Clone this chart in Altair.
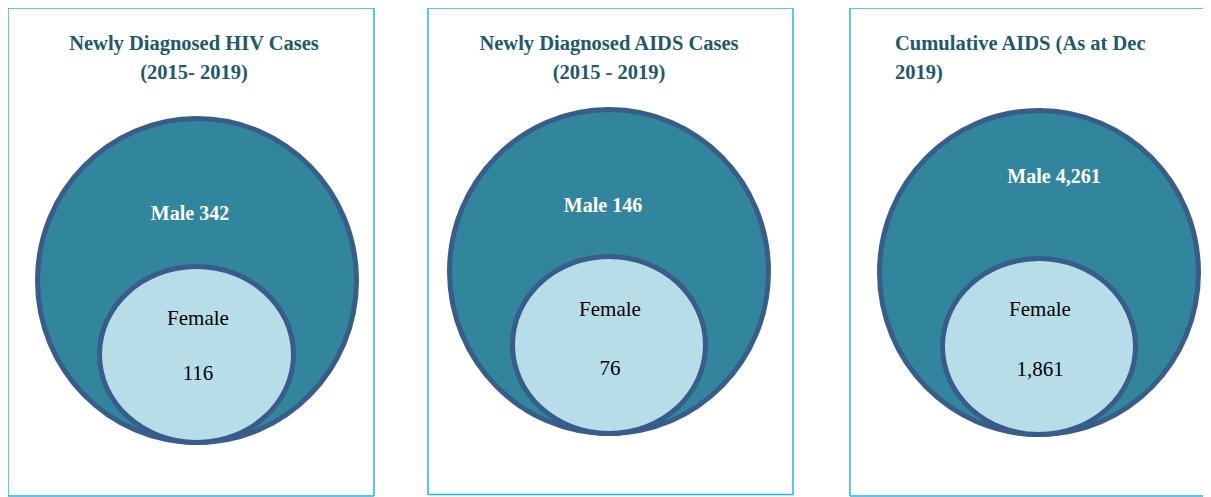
import altair as alt
import pandas as pd

# ---- content ----
title_line1 = ["Newly Diagnosed HIV Cases", "Newly Diagnosed AIDS Cases", "Cumulative AIDS (As at Dec"]
title_line2 = ["(2015- 2019)", "(2015 - 2019)", "2019)"]
male_values = [342, 146, 4261]
female_values = [116, 76, 1861]

# ---- layout (page pixel frame) ----
panel_x0 = [8, 428, 850]
panel_x1 = [374, 793, None]   # third panel runs off the right edge
panel_y0 = [8, 8, 8]
panel_y1 = [496, 494.5, 496]

title_x = [194, 609, 895]
title_align = ["center", "center", "left"]
title_y1, title_y2 = 50, 79

big_cx = [197, 609, 1039]
big_cy = [280.5, 271.5, 272.5]
big_w = [324, 324, 324]
big_h = [329, 329, 329]

small_cx = [196.5, 609, 1039]
small_cy = [354.5, 345, 346.5]
small_w = [199, 198, 198]
small_h = [181, 182, 181]

male_x = [190, 603, 1054]
male_y = [220, 212, 183]
female_x = [198, 610, 1040]
female_y = [325, 316, 316]
fval_y = [380, 375, 376]

STROKE = 5
W, H = 1195, 489
RIGHT = 8 + W
xs = alt.Scale(domain=[8, 8 + W], nice=False, zero=False)
ys = alt.Scale(domain=[8, 8 + H], nice=False, zero=False, reverse=True)


def ellipse_df(cx, cy, w, h):
    rows = []
    for a, b, ww, hh in zip(cx, cy, w, h):
        iw, ih = ww - STROKE, hh - STROKE
        r = ih / iw
        path = f"M-1,0A1,{r:.5f},0,1,1,1,0A1,{r:.5f},0,1,1,-1,0Z"
        rows.append({"x": a, "y": b, "shape": path, "size": iw * iw})
    return pd.DataFrame(rows)


# panel borders as individual edges
edges = []
for x0, x1, y0, y1 in zip(panel_x0, panel_x1, panel_y0, panel_y1):
    xr = x1 if x1 is not None else RIGHT + 20
    edges.append({"a": x0, "a2": xr, "b": y0, "b2": y0})  # top
    edges.append({"a": x0, "a2": xr, "b": y1, "b2": y1})  # bottom
    edges.append({"a": x0, "a2": x0, "b": y0, "b2": y1})  # left
    if x1 is not None:
        edges.append({"a": x1, "a2": x1, "b": y0, "b2": y1})  # right
frame = alt.Chart(pd.DataFrame(edges)).mark_rule(stroke="#22b5ec", strokeWidth=1.5).encode(
    x=alt.X("a:Q", scale=xs, axis=None), x2="a2:Q",
    y=alt.Y("b:Q", scale=ys, axis=None), y2="b2:Q",
)


def ellipses(df, fill):
    return alt.Chart(df).mark_point(
        filled=True, fill=fill, fillOpacity=1, opacity=1, stroke="#385d8a", strokeWidth=STROKE
    ).encode(
        x=alt.X("x:Q", scale=xs, axis=None),
        y=alt.Y("y:Q", scale=ys, axis=None),
        shape=alt.Shape("shape:N", scale=None, legend=None),
        size=alt.Size("size:Q", scale=None, legend=None),
    )


big = ellipses(ellipse_df(big_cx, big_cy, big_w, big_h), "#31859c")
small = ellipses(ellipse_df(small_cx, small_cy, small_w, small_h), "#b7dee8")

titles = pd.DataFrame({
    "x": title_x * 2,
    "y": [title_y1] * 3 + [title_y2] * 3,
    "t": title_line1 + title_line2,
    "align": title_align * 2,
})
title_layers = []
for al in ["center", "left"]:
    sub = titles[titles["align"] == al]
    title_layers.append(
        alt.Chart(sub).mark_text(
            font="Liberation Serif", fontSize=20.5, fontWeight="bold", color="#215968",
            align=al, baseline="alphabetic",
        ).encode(x=alt.X("x:Q", scale=xs, axis=None), y=alt.Y("y:Q", scale=ys, axis=None), text="t:N")
    )

male_df = pd.DataFrame({"x": male_x, "y": male_y, "t": [f"Male {v:,}" for v in male_values]})
male_text = alt.Chart(male_df).mark_text(
    font="Liberation Serif", fontSize=20, fontWeight="bold", color="white", baseline="alphabetic"
).encode(x=alt.X("x:Q", scale=xs, axis=None), y=alt.Y("y:Q", scale=ys, axis=None), text="t:N")

fem_df = pd.DataFrame({
    "x": female_x * 2,
    "y": female_y + fval_y,
    "t": ["Female"] * 3 + [f"{v:,}" for v in female_values],
})
fem_text = alt.Chart(fem_df).mark_text(
    font="Liberation Serif", fontSize=21, color="black", baseline="alphabetic"
).encode(x=alt.X("x:Q", scale=xs, axis=None), y=alt.Y("y:Q", scale=ys, axis=None), text="t:N")

chart = alt.layer(frame, big, small, *title_layers, male_text, fem_text).properties(
    width=W, height=H, padding=0, autosize=alt.AutoSizeParams(type="none")
).configure_view(stroke=None)

chart.save("out.html", embed_options={"renderer": "svg", "actions": False})
